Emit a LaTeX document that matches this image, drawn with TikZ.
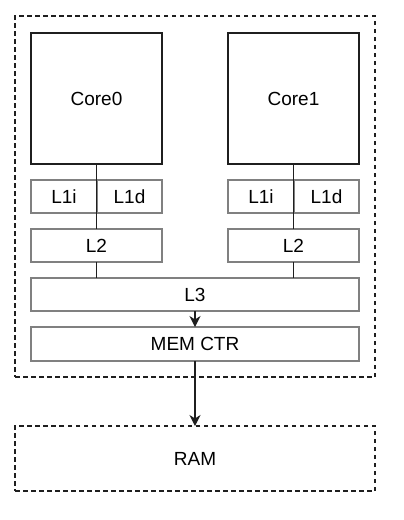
\documentclass[tikz,border=0pt]{standalone}
\usepackage{fontspec}
\setmainfont{Liberation Sans}
\usetikzlibrary{arrows.meta}
\begin{document}
\begin{tikzpicture}[x=1pt,y=-1pt,
  every node/.style={inner sep=0pt,outer sep=0pt,font=\fontsize{19}{22}\selectfont},
  corebox/.style={draw=black!88,line width=1.4pt,minimum width=131pt,minimum height=131pt},
  cachebox/.style={draw=black!50,line width=1.4pt,minimum height=33pt},
  dashbox/.style={draw=black!88,line width=1.3pt,dash pattern=on 4.5pt off 3.5pt},
  link/.style={draw=black!88,line width=1.4pt},
  arr/.style={link,-{Stealth[length=11pt,width=11pt,inset=3.5pt]}}
]
\useasboundingbox (0,0) rectangle (404,520);
\node[dashbox,minimum width=360pt,minimum height=361pt] (chip) at (195,196.5) {};
\node[dashbox,minimum width=360pt,minimum height=65pt] (ram) at (195,458.5) {RAM};

\node[corebox] (core0) at (96.5,98.5) {Core0};
\node[corebox] (core1) at (293.5,98.5) {Core1};

\node[cachebox,minimum width=66pt] (l1i0) at (64,196.5) {L1i};
\node[cachebox,minimum width=65pt] (l1d0) at (129.5,196.5) {L1d};
\node[cachebox,minimum width=66pt] (l1i1) at (261,196.5) {L1i};
\node[cachebox,minimum width=65pt] (l1d1) at (326.5,196.5) {L1d};

\node[cachebox,minimum width=131pt] (l20) at (96.5,245.5) {L2};
\node[cachebox,minimum width=131pt] (l21) at (293.5,245.5) {L2};

\node[cachebox,minimum width=328pt] (l3) at (195,294.5) {L3};
\node[cachebox,minimum width=328pt,minimum height=34pt] (mem) at (195,344) {MEM CTR};

\draw[link] (core0.south) -- (l20.north);
\draw[link] (core1.south) -- (l21.north);
\draw[link] (l20.south) -- (l20.south |- l3.north);
\draw[link] (l21.south) -- (l21.south |- l3.north);
\draw[arr] (l3.south) -- (mem.north);
\draw[arr] (mem.south) -- (ram.north);
\end{tikzpicture}
\end{document}
